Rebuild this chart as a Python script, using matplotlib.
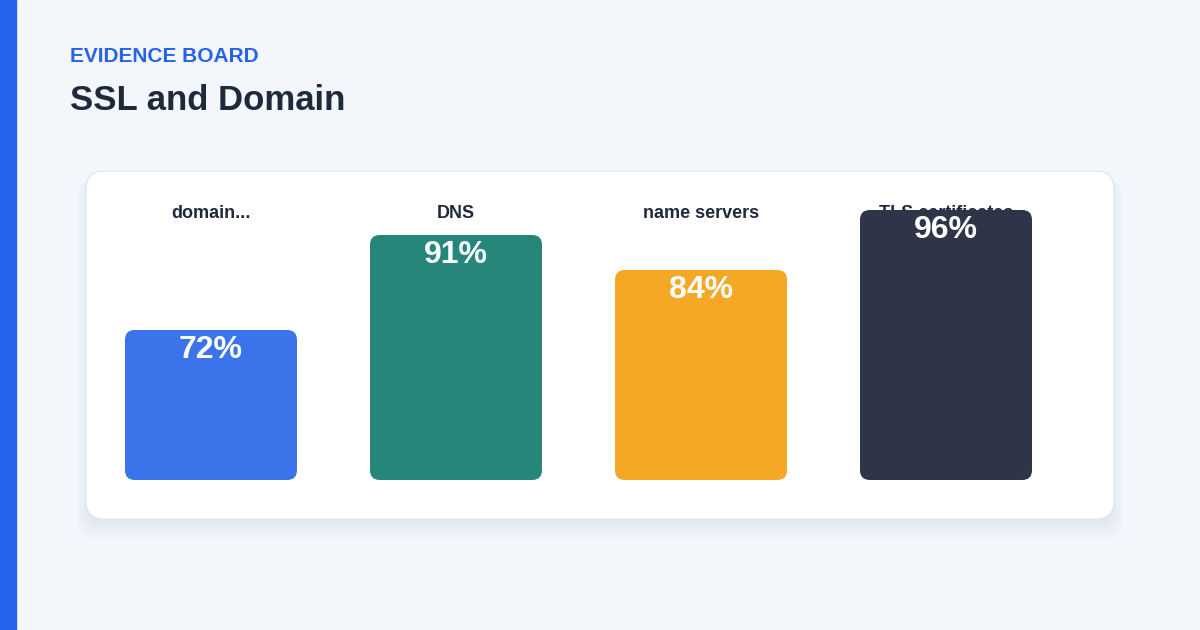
import matplotlib
matplotlib.use("Agg")
import matplotlib.pyplot as plt
from matplotlib.patches import FancyBboxPatch, Rectangle

categories = ["domain...", "DNS", "name servers", "TLS certificates"]
values = [72, 91, 84, 96]
colors = ["#3b73ea", "#26867a", "#f5a826", "#2f3548"]

plt.rcParams['font.family'] = ['Liberation Sans', 'DejaVu Sans']
W, H = 1200, 630
fig = plt.figure(figsize=(12, 6.3), dpi=100)
fig.patch.set_facecolor("#f3f6fb")

bg = fig.add_axes([0, 0, 1, 1])
bg.set_xlim(0, W); bg.set_ylim(H, 0); bg.axis("off")
bg.add_patch(Rectangle((0, 0), 16, H, color="#2563eb"))
for i, a in enumerate([0.02, 0.02, 0.015, 0.01]):
    bg.add_patch(FancyBboxPatch((86 - i * 3, 176 - i + i * 2), 1028 + i * 6, 348 + i * 4,
                                boxstyle="round,pad=0,rounding_size=18", fc="#1e3a6a", ec="none", alpha=a))
bg.add_patch(FancyBboxPatch((86, 171), 1028, 348, boxstyle="round,pad=0,rounding_size=18",
                            fc="white", ec="#e2e8f0", lw=1))
bg.text(70, 56, "EVIDENCE BOARD", color="#2563eb", fontsize=15, fontweight="bold", va="center")
bg.text(70, 100, "SSL and Domain", color="#1e293b", fontsize=25, fontweight="bold", va="center")

ax = fig.add_axes([0, 0, 1, 1])
ax.patch.set_alpha(0)
ax.axis("off")
ax.set_xlim(-211 / 245, (W - 211) / 245)
base = 42
ax.set_ylim(base - (H - 480) / 5, base + 480 / 5)
hw = 172 / 245 / 2
for i, (c, v, col) in enumerate(zip(categories, values, colors)):
    ax.text(i, base + (480 - 213) / 5, c, color="#1e293b", fontsize=13, fontweight="bold",
            ha="center", va="center", zorder=1)
    ax.add_patch(FancyBboxPatch((i - hw, base), 2 * hw, v - base,
                                boxstyle="round,pad=0,rounding_size=0.04",
                                mutation_aspect=49, fc=col, ec="none", zorder=2))
    ax.text(i, v - 4, f"{v}%", color="white", fontsize=23, fontweight="bold", ha="center",
            va="center", zorder=3)

fig.savefig("out.png", dpi=100, facecolor=fig.get_facecolor())
